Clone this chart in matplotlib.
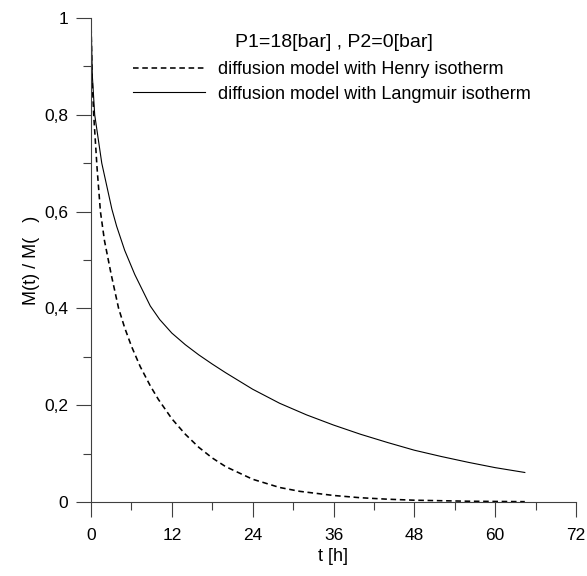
import matplotlib
matplotlib.use("Agg")
import matplotlib.pyplot as plt
from matplotlib.ticker import MultipleLocator, FixedLocator, FixedFormatter

plt.rcParams['font.family'] = ['Liberation Sans', 'DejaVu Sans']

# Data
t_henry = [0, 0.15, 0.4, 0.9, 1.4, 2, 3, 4.1, 5, 6, 7.3, 8.8, 10, 12, 14, 16,
           18, 20, 24, 28, 31, 36, 40, 44, 48, 56, 64.4]
m_henry = [1.0, 0.88, 0.80, 0.69, 0.60, 0.54, 0.47, 0.40, 0.36, 0.322, 0.28,
           0.24, 0.212, 0.172, 0.14, 0.113, 0.091, 0.073, 0.047, 0.030, 0.022,
           0.0135, 0.0088, 0.0058, 0.0037, 0.0016, 0.0007]

t_lang = [0, 0.2, 0.55, 1.6, 3.1, 3.8, 5, 6.5, 8.8, 10.2, 12, 14, 16, 18, 20,
          24, 28, 32, 36, 40, 44, 48, 52, 56, 60, 64.4]
m_lang = [1.0, 0.88, 0.80, 0.70, 0.605, 0.57, 0.52, 0.47, 0.405, 0.377, 0.349,
          0.325, 0.304, 0.285, 0.267, 0.233, 0.204, 0.18, 0.159, 0.14, 0.123,
          0.107, 0.094, 0.082, 0.071, 0.061]

x_ticks = [0, 12, 24, 36, 48, 60, 72]
y_ticks = [0, 0.2, 0.4, 0.6, 0.8, 1.0]
y_labels = ["0", "0,2", "0,4", "0,6", "0,8", "1"]

label_henry = "diffusion model with Henry isotherm"
label_lang = "diffusion model with Langmuir isotherm"
title_text = "P1=18[bar] , P2=0[bar]"
xlabel = "t [h]"
ylabel = "M(t) / M(   )"

W, H = 587, 576
fig = plt.figure(figsize=(W/100, H/100), dpi=100)
L, R, T, B = 91, 576, 18, 502
ax = fig.add_axes([L/W, 1 - B/H, (R-L)/W, (B-T)/H])

ax.plot(t_henry, m_henry, color='black', lw=1.15, linestyle=(0, (3.5, 2.3)),
        label=label_henry)
ax.plot(t_lang, m_lang, color='black', lw=0.8, label=label_lang)

ax.set_xlim(0, 72)
ax.set_ylim(0, 1)
ax.xaxis.set_major_locator(FixedLocator(x_ticks))
ax.xaxis.set_minor_locator(MultipleLocator(6))
ax.yaxis.set_major_locator(FixedLocator(y_ticks))
ax.yaxis.set_major_formatter(FixedFormatter(y_labels))
ax.yaxis.set_minor_locator(MultipleLocator(0.1))

for s in ['top', 'right']:
    ax.spines[s].set_visible(False)
for s in ['left', 'bottom']:
    ax.spines[s].set_linewidth(0.8)
    ax.spines[s].set_color('#404040')

ax.tick_params(which='major', direction='out', length=11, width=0.8,
               color='#404040', labelsize=12.5)
ax.tick_params(which='minor', direction='out', length=5.5, width=0.8,
               color='#404040')
ax.tick_params(axis='y', which='major', pad=5.5)
ax.tick_params(axis='x', which='major', pad=8)

ax.set_xlabel(xlabel, fontsize=13, labelpad=3)
ax.set_ylabel(ylabel, fontsize=13, labelpad=3)

leg = ax.legend(loc='upper left', bbox_to_anchor=(133/W, 1 - 61.5/H),
                bbox_transform=fig.transFigure, frameon=False, fontsize=13,
                handlelength=4.0, handletextpad=0.7, labelspacing=0.4,
                borderpad=0, borderaxespad=0)
fig.text(235/W, 1 - 42.5/H, title_text, fontsize=14, va='center', ha='left')

fig.savefig("out.png", dpi=100)
